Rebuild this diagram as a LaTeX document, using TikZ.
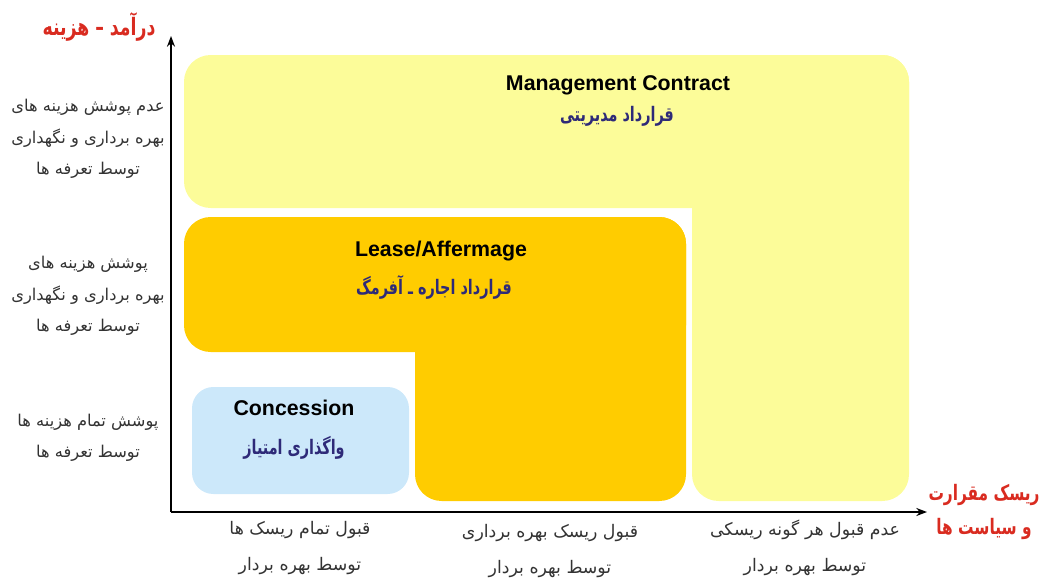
\documentclass[tikz,border=0pt]{standalone}
\usepackage{fontspec}
\setmainfont{Liberation Sans}
\newfontfamily\fa[Script=Arabic]{DejaVu Sans}
\newfontfamily\facond[Script=Arabic,FakeStretch=0.72]{DejaVu Sans}
\TeXXeTstate=1
\usetikzlibrary{arrows.meta}
\definecolor{mgmt}{HTML}{FCFC99}
\definecolor{lease}{HTML}{FFCC00}
\definecolor{conc}{HTML}{CCE8FA}
\definecolor{navy}{HTML}{2E2A78}
\definecolor{axred}{HTML}{D92B20}
\definecolor{lblgray}{HTML}{333333}
\begin{document}
\begin{tikzpicture}[x=0.75pt,y=-0.75pt,
  entitle/.style={font=\bfseries\fontsize{16}{19}\selectfont, text=black, inner sep=0},
  fatitle/.style={font=\facond\bfseries\fontsize{15}{18}\selectfont, text=navy, inner sep=0},
  lbl/.style={font=\fa\fontsize{12.2}{23.5}\selectfont, align=center, text=lblgray, inner sep=0},
  xlbl/.style={font=\fa\fontsize{13}{27}\selectfont, align=center, text=lblgray, inner sep=0},
  axlbl/.style={font=\facond\bfseries\fontsize{16}{26}\selectfont, text=axred, align=center, inner sep=0},
  axisline/.style={line width=1.6pt, -{Stealth[length=8pt,width=6pt]}}]
\path[use as bounding box] (0,0) rectangle (1042,578);
% Management contract (L shape)
\fill[mgmt, rounded corners=20] (184,55) rectangle (909,208);
\fill[mgmt, rounded corners=20] (692,55) rectangle (909,501);
% Lease / Affermage (L shape)
\fill[lease, rounded corners=20] (184,217) rectangle (686,352);
\fill[lease, rounded corners=20] (415,217) rectangle (686,501);
% Concession
\fill[conc, rounded corners=16] (192,387) rectangle (409,494);
% texts in blocks
\node[entitle] (mgEn) at (618,85) {Management Contract};
\node[fatitle] (mgFa) at (617,116) {\beginR قرارداد مدیریتی\endR};
\node[entitle] (lsEn) at (441,251) {Lease/Affermage};
\node[fatitle] (lsFa) at (434,287) {\beginR قرارداد اجاره ـ آفرمگ\endR};
\node[entitle] (csEn) at (294,408) {Concession};
\node[fatitle] (csFa) at (294,448) {\beginR واگذاری امتیاز\endR};
% axes
\coordinate (O) at (171,512);
\coordinate (ytip) at (171,36);
\coordinate (xtip) at (927,512);
\draw[axisline] (O) -- (ytip);
\draw[axisline] (O) -- (xtip);
% axis titles
\node[axlbl, font=\facond\bfseries\fontsize{18}{26}\selectfont] (ytitle) at (99,27) {\beginR درآمد – هزینه\endR};
\node[axlbl] (xtitle) at (984,512) {\beginR ریسک مقرارت\endR\\\beginR و سیاست ها\endR};
% y labels
\node[lbl] (y3) at (88,139) {\beginR عدم پوشش هزینه های\endR\\\beginR بهره برداری و نگهداری\endR\\\beginR توسط تعرفه ها\endR};
\node[lbl] (y2) at (88,296) {\beginR پوشش هزینه های\endR\\\beginR بهره برداری و نگهداری\endR\\\beginR توسط تعرفه ها\endR};
\node[lbl] (y1) at (88,438) {\beginR پوشش تمام هزینه ها\endR\\\beginR توسط تعرفه ها\endR};
% x labels
\node[xlbl] (x1) at (300,548) {\beginR قبول تمام ریسک ها\endR\\\beginR توسط بهره بردار\endR};
\node[xlbl] (x2) at (550,551) {\beginR قبول ریسک بهره برداری\endR\\\beginR توسط بهره بردار\endR};
\node[xlbl] (x3) at (805,548) {\beginR عدم قبول هر گونه ریسکی\endR\\\beginR توسط بهره بردار\endR};
\end{tikzpicture}
\end{document}
